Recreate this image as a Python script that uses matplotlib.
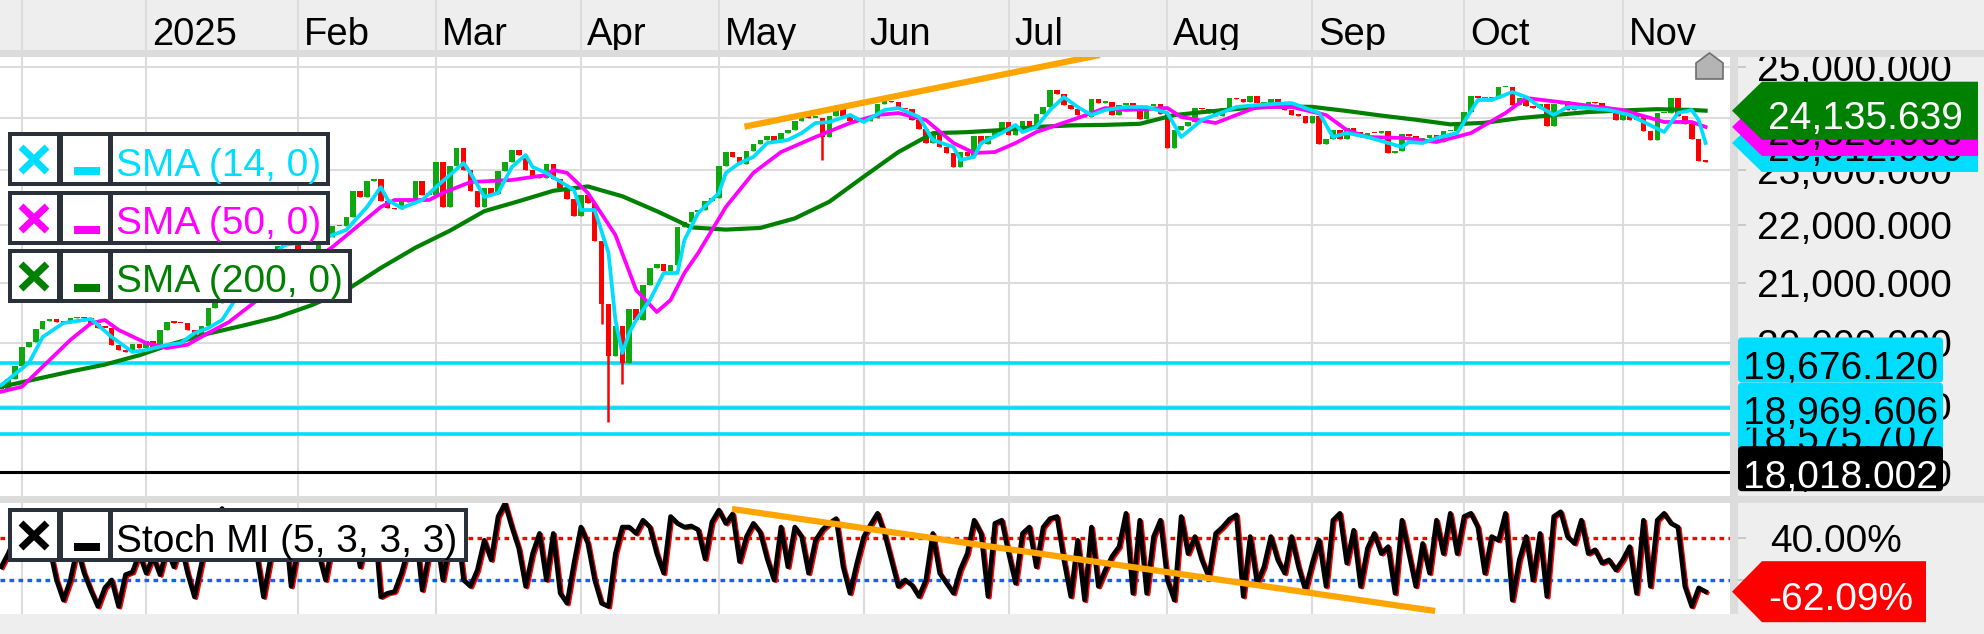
import numpy as np
import matplotlib
matplotlib.use("Agg")
import matplotlib.pyplot as plt
import matplotlib.transforms as mtransforms
from matplotlib.patches import Rectangle, Polygon, FancyBboxPatch
from matplotlib.lines import Line2D
from matplotlib.ticker import NullLocator, NullFormatter

plt.rcParams['font.family'] = ['Liberation Sans', 'DejaVu Sans']

# ------------------------------------------------------------------ data
month_labels = ["", "", "2025", "Feb", "Mar", "Apr", "May", "Jun", "Jul", "Aug", "Sep", "Oct", "Nov"]

prior_close = 19295
close_nov24 = [19262, 19426, 19626]
close_dec24 = [19934, 20017, 20232, 20359, 20385, 20345, 20329, 20399, 20426, 20406,
               20314, 20246, 20243, 19970, 19885, 19849, 19985, 19909]
close_jan = [20025, 19906, 20216, 20340, 20330, 20317, 20215, 20133, 20271, 20575, 20655,
             20903, 20990, 21042, 21254, 21411, 21395, 21282, 21430, 21637, 21727, 21732]
close_feb = [21428, 21505, 21585, 21902, 21787, 21978, 21980, 22148, 22612, 22514,
             22798, 22845, 22433, 22315, 22287, 22426, 22410, 22795, 22551, 22551]
close_mar = [23147, 22327, 23081, 23419, 23009, 22621, 22329, 22676, 22567, 22987, 23154,
             23380, 23288, 22999, 22892, 22852, 23109, 22839, 22679, 22461, 22163]
close_apr = [22540, 22390, 21717, 20642, 19790, 20280, 19670, 20563, 20374, 20955,
             21254, 21311, 21206, 21294, 21962, 22064, 22242, 22272, 22426, 22497]
close_may = [23087, 23345, 23249, 23116, 23352, 23499, 23567, 23638, 23527, 23695, 23767,
             23934, 24036, 23999, 23999, 23630, 24028, 24227, 24039, 23933, 23997]
close_jun = [23930, 23994, 24276, 24324, 24304, 24174, 24162, 23949, 23771, 23516, 23699,
             23435, 23317, 23057, 23350, 23269, 23641, 23498, 23649, 23788, 23910]
close_jul = [23673, 23790, 23934, 23787, 24073, 24206, 24550, 24456, 24255, 24161, 24060, 24009,
             24371, 24290, 24307, 24042, 24240, 24296, 24218, 23970, 24218, 24262, 24065]
close_aug = [23425, 23757, 23846, 23924, 24193, 24163, 24081, 24024, 24186, 24377, 24359,
             24314, 24423, 24277, 24293, 24363, 24273, 24152, 24046, 24040, 23902]
close_sep = [24037, 23487, 23595, 23770, 23597, 23807, 23718, 23633, 23704, 23698, 23749,
             23329, 23359, 23675, 23639, 23527, 23611, 23666, 23534, 23739, 23745, 23881]
close_oct = [24114, 24423, 24378, 24378, 24385, 24597, 24611, 24241, 24387, 24237, 24181, 24272,
             23831, 24259, 24330, 24151, 24207, 24239, 24309, 24278, 24124, 24118, 23958]
close_nov = [24132, 23949, 24050, 23734, 23569, 24088, 24088, 24381, 24041, 23877, 23590, 23180, 23162]

wick_low = {87: 20300, 88: 18760, 90: 19340, 119: 23190}

sma14_day = [0, 4, 6, 9, 13, 16, 19, 21, 24, 26, 28, 30, 32, 36, 41, 46, 50, 53, 55, 56, 58, 61, 63, 67,
             68, 70, 72, 74, 76, 77, 79, 83, 84, 86, 88, 89, 90, 91, 92, 94, 96, 98, 99, 101, 104, 105,
             107, 109, 111, 114, 116, 118, 120, 123, 125, 128, 130, 133, 135, 138, 139, 141, 142, 145,
             147, 148, 150, 152, 154, 156, 158, 160, 163, 166, 169, 171, 174, 179, 182, 187, 191, 193,
             195, 198, 203, 204, 206, 208, 211, 214, 216, 219, 221, 223, 225, 227, 230, 233, 236, 241,
             243, 245, 246, 247]
sma14_val = [19328, 19676, 20095, 20323, 20390, 20095, 19852, 19884, 19965, 19997, 20159, 20241, 20373,
             21095, 21648, 21736, 21913, 22325, 22689, 22452, 22307, 22452, 22689, 23134, 22948, 22507,
             22579, 23060, 23285, 23060, 22948, 22634, 22271, 22271, 21509, 20373, 19836, 20159, 20373,
             20705, 21163, 21163, 21736, 22217, 22579, 22948, 23134, 23248, 23512, 23570, 23703, 23896,
             23915, 24052, 23915, 24149, 24188, 24013, 23570, 23436, 23191, 23248, 23512, 23703, 23858,
             23722, 23819, 24149, 24404, 24208, 24052, 24149, 24208, 24208, 24091, 23627, 23954, 24208,
             24247, 24286, 24091, 23627, 23703, 23627, 23436, 23531, 23512, 23608, 23703, 24345, 24345,
             24503, 24404, 24208, 24052, 24208, 24188, 24149, 24052, 23722, 24091, 24149, 23954, 23512]

sma50_day = [0, 3, 6, 10, 13, 15, 17, 21, 24, 27, 30, 33, 39, 48, 55, 57, 62, 64, 68, 74, 79, 80, 82, 85,
             89, 92, 95, 97, 99, 101, 105, 109, 113, 118, 123, 127, 130, 134, 138, 141, 144, 147, 150,
             156, 160, 163, 169, 171, 176, 179, 182, 187, 192, 195, 198, 203, 208, 213, 218, 221, 227,
             235, 241, 245, 247]
sma50_val = [19224, 19302, 19617, 20046, 20319, 20373, 20209, 19997, 19916, 19970, 20160, 20340, 20874,
             21614, 22324, 22452, 22452, 22581, 22781, 22819, 22911, 23004, 22950, 22581, 21825, 20874,
             20505, 20706, 21163, 21509, 22324, 22950, 23341, 23627, 23896, 24052, 24090, 23954, 23512,
             23323, 23341, 23512, 23722, 23993, 24188, 24149, 24188, 24013, 23896, 24052, 24208, 24208,
             24052, 23761, 23627, 23608, 23531, 23703, 24090, 24385, 24286, 24149, 23916, 23916, 23820]

sma200_day = [0, 5, 10, 15, 20, 25, 30, 35, 40, 45, 50, 55, 60, 65, 70, 75, 80, 85, 90, 95, 100, 105,
              110, 115, 120, 125, 130, 135, 140, 145, 150, 155, 160, 165, 170, 175, 180, 185, 190, 195,
              200, 205, 210, 215, 220, 225, 230, 235, 240, 245, 247]
sma200_val = [19300, 19420, 19540, 19650, 19800, 19990, 20150, 20280, 20420, 20620, 20870, 21250, 21600,
              21900, 22250, 22430, 22620, 22700, 22520, 22250, 21960, 21920, 21950, 22120, 22420, 22880,
              23340, 23700, 23720, 23760, 23820, 23850, 23860, 23880, 24050, 24120, 24180, 24220, 24210,
              24130, 24040, 23960, 23870, 23900, 23990, 24050, 24110, 24140, 24165, 24150, 24135.639]

support_levels = [19676.120, 18575.707, 18969.606]
base_level = 18018.002
price_ticks = [18000, 19000, 20000, 21000, 22000, 23000, 24000, 25000]

smi_nov24 = [-15, 10, 40]
smi_dec24 = [70, 85, 90, 60, 20, -40, -78, -40, 20, -27, -60, -90, -55, -40, -90, -30, -25, 10]
smi_jan = [-27, 5, -30, 20, -15, 30, -27, -72, -10, 50, 80, 95, 70, 80, 90, 60, 10, -72, 0, 60, 85, -52]
smi_feb = [20, 70, 40, 10, -40, 30, 75, 90, 60, -15, 40, 85, -72, -65, -62, -27, 20, 60, -59, 10]
smi_mar = [50, -40, 30, 70, -40, -52, -21, 35, -2, 80, 105, 60, 20, -52, 10, 48, -40, 48, -65, -84, -8]
smi_apr = [60, 30, -40, -84, -90, 10, 60, 60, 48, 73, 60, 10, -27, 80, 67, 60, 62, 55, 0, 70]
smi_may = [92, 67, 85, -5, 42, 67, 50, 0, -40, 60, -15, 60, 42, -27, 35, 55, 67, 76, -15, -65, -8]
smi_jun = [42, 65, 86, 48, -2, -52, -40, -50, -71, -40, 48, -27, -46, -65, -20, 10, 73, 48, -71, 67, 73]
smi_jul = [10, -46, 48, 60, -15, 60, 76, 80, -2, -71, 35, -78, 60, -52, -21, 5, 23, 86, -65, 73, -65, 42, 73]
smi_aug = [-40, -78, 80, 10, 42, -2, -34, 48, 60, 75, 83, -71, 42, -46, -15, 42, -2, -27, 42, -15, -59]
smi_sep = [-8, 35, -52, 73, 86, -8, 54, -52, 20, 48, 10, 23, -65, 73, 10, -52, 29, -27, 73, 10, 86, 10]
smi_oct = [80, 86, 60, -27, 42, 35, 86, -78, -2, 42, -40, 48, -71, 80, 89, 42, 29, 73, 10, 17, -8, -2, -21]
smi_nov = [-2, 23, -65, 73, -52, 73, 86, 67, 60, -52, -90, -55, -62.09]
smi_ticks = [40, -40]

trend_price_day = [107.7, 159.2]
trend_price_val = [23825, 25249]
trend_smi_day = [105.9, 207.8]
trend_smi_val = [94.3, -98.6]

# ------------------------------------------------------------------ assemble
close_months = [close_nov24, close_dec24, close_jan, close_feb, close_mar, close_apr, close_may,
                close_jun, close_jul, close_aug, close_sep, close_oct, close_nov]
smi_months = [smi_nov24, smi_dec24, smi_jan, smi_feb, smi_mar, smi_apr, smi_may,
              smi_jun, smi_jul, smi_aug, smi_sep, smi_oct, smi_nov]
closes = np.array([v for m in close_months for v in m], dtype=float)
smi = np.array([v for m in smi_months for v in m], dtype=float)
assert len(closes) == len(smi)
n = len(closes)
x = np.arange(n)
month_starts = np.cumsum([0] + [len(m) for m in close_months])[:-1]

# ------------------------------------------------------------------ style
CYAN = '#00DDFF'
MAGENTA = '#FF00FF'
DKGREEN = '#008000'
CANDLE_G = '#10A810'
RED = '#FF0000'
ORANGE = '#FFA500'
BLUE = '#1060FF'
GRID = '#dcdcdc'
BAND = '#dcdcdc'
BG = '#eeeeee'
BORDER = '#2B313B'
FS = 28

W, H = 1984, 634
fig = plt.figure(figsize=(W / 100, H / 100), dpi=100, facecolor=BG)
pix = mtransforms.Affine2D().scale(1 / W, -1 / H).translate(0, 1) + fig.transFigure
PLOT_R = 1730
XL = (-0.19, 250.54)


def ax_rect(top, bottom):
    return [0, 1 - bottom / H, PLOT_R / W, (bottom - top) / H]


ax_h = fig.add_axes(ax_rect(0, 50))
ax_p = fig.add_axes(ax_rect(57, 496))
ax_s = fig.add_axes(ax_rect(503, 614))

# ---- header
ax_h.set_xlim(XL)
ax_h.set_ylim(0, 1)
ax_h.set_facecolor(BG)
for s in ax_h.spines.values():
    s.set_visible(False)
ax_h.set_xticks([])
ax_h.set_yticks([])
ax_h.vlines(month_starts[1:], 0, 1, color=GRID, lw=1.5)
for st, lab in zip(month_starts, month_labels):
    if lab:
        ax_h.annotate(lab, (st, 0), xycoords='data', xytext=(6, 5), textcoords='offset pixels',
                      fontsize=27.5, ha='left', va='baseline', color='black')

# ---- price panel
ax_p.set_yscale('log')
ax_p.set_xlim(XL)
ax_p.set_ylim(17667, 25208)
ax_p.set_facecolor('white')
for s in ax_p.spines.values():
    s.set_visible(False)
ax_p.set_xticks(month_starts[1:])
ax_p.tick_params(axis='x', length=0, labelbottom=False)
ax_p.yaxis.tick_right()
ax_p.set_yticks(price_ticks)
ax_p.set_yticklabels([f"{v:,.3f}" for v in price_ticks])
ax_p.yaxis.set_minor_locator(NullLocator())
ax_p.yaxis.set_minor_formatter(NullFormatter())
ax_p.tick_params(axis='y', length=11.5, width=1.4, color='#c8c8c8', pad=7.9, labelsize=FS)
ax_p.grid(True, color=GRID, lw=1.5)
ax_p.set_axisbelow(True)

for v in support_levels:
    ax_p.axhline(v, color=CYAN, lw=2.6, zorder=1.5)
ax_p.axhline(base_level, color='black', lw=2.2, zorder=1.5)

opens = np.r_[prior_close, closes[:-1]]
lo_body = np.minimum(opens, closes)
hi_body = np.maximum(opens, closes)
lows = lo_body.copy()
for d, v in wick_low.items():
    lows[d] = min(lows[d], v)
colors = np.where(closes >= opens, CANDLE_G, RED)
ax_p.vlines(x, lows, hi_body, colors=colors, lw=1.8, zorder=2)
heights = np.maximum(hi_body - lo_body, closes * 0.0012)
ax_p.bar(x, heights, bottom=lo_body, width=0.8, color=colors, linewidth=0, zorder=2.1)

ax_p.plot(sma200_day, sma200_val, color=DKGREEN, lw=3.0, zorder=3)
ax_p.plot(sma50_day, sma50_val, color=MAGENTA, lw=2.7, zorder=3.1)
ax_p.plot(sma14_day, sma14_val, color=CYAN, lw=2.7, zorder=3.2)
ax_p.plot(trend_price_day, trend_price_val, color=ORANGE, lw=4.5, solid_capstyle='butt', zorder=4)

# ---- stochastic panel
ax_s.set_xlim(XL)
ax_s.set_ylim(-104.3, 105.6)
ax_s.set_facecolor('white')
for s in ax_s.spines.values():
    s.set_visible(False)
ax_s.set_xticks(month_starts[1:])
ax_s.tick_params(axis='x', length=0, labelbottom=False)
ax_s.grid(True, axis='x', color=GRID, lw=1.5)
ax_s.set_axisbelow(True)
ax_s.yaxis.tick_right()
ax_s.set_yticks(smi_ticks)
ax_s.set_yticklabels([f"{v:.2f}%" for v in smi_ticks])
ax_s.tick_params(axis='y', length=11.5, width=1.4, color='#c8c8c8', pad=17.3, labelsize=FS)
ax_s.axhline(smi_ticks[0], color=RED, lw=2.4, ls=(0, (1.4, 1.3)), zorder=1.5)
ax_s.axhline(smi_ticks[1], color=BLUE, lw=2.4, ls=(0, (1.4, 1.3)), zorder=1.5)
shift = mtransforms.ScaledTranslation(0.018, -0.012, fig.dpi_scale_trans)
ax_s.plot(x, smi, color=RED, lw=2.8, zorder=2, transform=ax_s.transData + shift)
ax_s.plot(x, smi, color='black', lw=3.4, zorder=2.1)
ax_s.plot(trend_smi_day, trend_smi_val, color=ORANGE, lw=4.5, solid_capstyle='butt', zorder=4)

# ---- frame bands
fig.add_artist(Rectangle((0, 50), W, 7, transform=pix, fc=BAND, ec='none', zorder=1))
fig.add_artist(Rectangle((0, 496), W, 7, transform=pix, fc=BAND, ec='none', zorder=1))
fig.add_artist(Rectangle((PLOT_R, 57), 8, 557, transform=pix, fc=BAND, ec='none', zorder=1))

# home icon
fig.add_artist(Polygon([(1696, 79), (1696, 63), (1709.5, 53), (1723, 63), (1723, 79)], closed=True,
                       transform=pix, fc='#b4b4b4', ec='#6e6e6e', lw=1.2, zorder=6))


def ypix(ax, v):
    return H - ax.transData.transform((0, v))[1]


# support level tags
for k, v in enumerate(support_levels + [base_level]):
    yl = ypix(ax_p, v)
    fc = 'black' if v == base_level else CYAN
    tc = 'white' if v == base_level else 'black'
    fig.add_artist(FancyBboxPatch((1738, yl - 25.5), 205, 45, boxstyle='round,pad=0,rounding_size=4',
                                  transform=pix, fc=fc, ec='none', zorder=5 + 0.1 * k))
    fig.text(1743, yl + 16, f"{v:,.3f}", transform=pix, fontsize=FS, color=tc,
             ha='left', va='baseline', zorder=5.05 + 0.1 * k)


def tag(y, color, text, tcolor, right, half, z):
    fig.add_artist(Polygon([(1732, y), (1762, y - half), (right, y - half), (right, y + half), (1762, y + half)],
                           closed=True, transform=pix, fc=color, ec='none', zorder=z))
    fig.text(1768, y + 18, text, transform=pix, fontsize=FS, color=tcolor, ha='left', va='baseline',
             zorder=z + 0.05)


tag(ypix(ax_p, sma14_val[-1]), CYAN, f"{sma14_val[-1]:,.3f}", 'black', 1978, 29, 6)
tag(ypix(ax_p, sma50_val[-1]), MAGENTA, f"{sma50_val[-1]:,.3f}", 'black', 1978, 29, 6.1)
tag(ypix(ax_p, sma200_val[-1]), DKGREEN, f"{sma200_val[-1]:,.3f}", 'white', 1978, 29, 6.2)
tag(ypix(ax_s, smi[-1]), RED, f"{smi[-1]:.2f}%", 'white', 1926, 30.5, 6)


def legend_box(T, R, color, label):
    fig.add_artist(Rectangle((8, T), R - 8, 54, transform=pix, fc=BORDER, ec='none', zorder=7))
    for a, b in [(12, 57), (63, 108), (113, R - 4)]:
        fig.add_artist(Rectangle((a, T + 4), b - a, 46, transform=pix, fc='white', ec='none', zorder=7.1))
    for x0, y0, x1, y1 in [(21, T + 15, 47, T + 40), (21, T + 40, 47, T + 15)]:
        fig.add_artist(Line2D([x0, x1], [y0, y1], transform=pix, color=color, lw=5,
                              solid_capstyle='butt', zorder=7.2))
    fig.add_artist(Rectangle((74, T + 35), 26, 8, transform=pix, fc=color, ec='none', zorder=7.2))
    fig.text(116, T + 43.5, label, transform=pix, fontsize=FS, color=color, ha='left', va='baseline',
             zorder=7.3)


legend_box(132, 330, CYAN, 'SMA (14, 0)')
legend_box(191, 330, MAGENTA, 'SMA (50, 0)')
legend_box(249, 352, DKGREEN, 'SMA (200, 0)')
legend_box(508, 468, 'black', 'Stoch MI (5, 3, 3, 3)')

fig.savefig('out.png', dpi=100, facecolor=BG)
